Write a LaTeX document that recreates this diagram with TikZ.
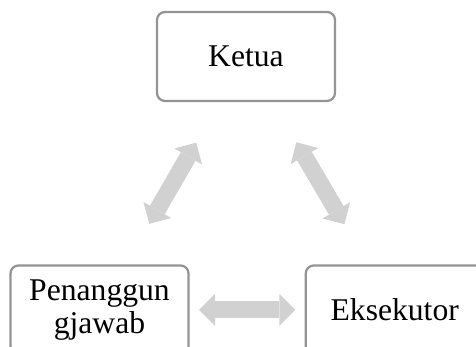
\documentclass[tikz,border=0pt]{standalone}
\usepackage{fontspec}
\setmainfont{Liberation Serif}
\usepackage{tikz}
\usetikzlibrary{positioning, arrows.meta}
\definecolor{box_gray}{rgb}{0.58, 0.58, 0.58}
\definecolor{link_gray}{rgb}{0.82, 0.82, 0.82}
\tikzset{
  rolebox/.style={draw=box_gray, line width=0.45mm, rounded corners=1.6mm, fill=white,
    minimum width=35.6mm, minimum height=17.8mm, align=center,
    font=\fontsize{18pt}{18.4pt}\selectfont},
  link/.style={draw=link_gray, line width=3.4mm, shorten <=19.9mm, shorten >=19.9mm,
    {Triangle[width=6.4mm, length=3.2mm, line width=0pt, fill=link_gray]}-{Triangle[width=6.4mm, length=3.2mm, line width=0pt, fill=link_gray]}}
}

\begin{document}
\begin{tikzpicture}
        \useasboundingbox (0mm, 0mm) rectangle (95.2mm, 69.4mm);
        \clip (0mm, 0mm) rectangle (95.2mm, 69.4mm);
        \node[rolebox] (ketua) at (49.2mm, 58.1mm) {Ketua};
        \node[rolebox] (pj) at (19.9mm, 7.4mm) {Penanggun\\gjawab};
        \node[rolebox, right=23mm of pj] (eksekutor) {Eksekutor};
        \draw[link] (ketua.center) -- (pj.center);
        \draw[link] (ketua.center) -- (eksekutor.center);
        \draw[link] (pj.center) -- (eksekutor.center);
    \end{tikzpicture}
\end{document}
